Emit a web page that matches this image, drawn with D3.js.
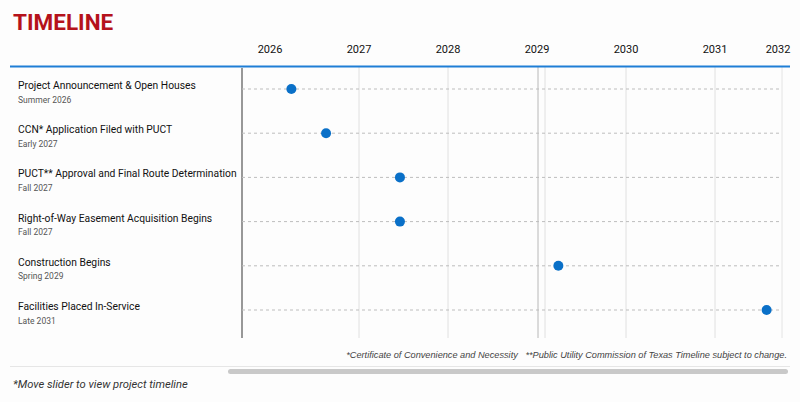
<!DOCTYPE html>
<html>
<head>
<meta charset="utf-8">
<script src="https://cdn.jsdelivr.net/npm/d3@7"></script>
<style>
  body { margin: 0; background: #fdfdfd; font-family: Roboto, "Noto Sans", sans-serif; }
</style>
</head>
<body>
<div id="app"></div>
<script>
const milestones = [
    "Project Announcement & Open Houses",
    "CCN* Application Filed with PUCT",
    "PUCT** Approval and Final Route Determination",
    "Right-of-Way Easement Acquisition Begins",
    "Construction Begins",
    "Facilities Placed In-Service"
];
const periods = ["Summer 2026", "Early 2027", "Fall 2027", "Fall 2027", "Spring 2029", "Late 2031"];
const dates = [2026.24, 2026.63, 2027.46, 2027.46, 2029.24, 2031.58];
const years = [2026, 2027, 2028, 2029, 2030, 2031, 2032];
const footnote = "*Certificate of Convenience and Necessity   **Public Utility Commission of Texas Timeline subject to change.";
const sliderNote = "*Move slider to view project timeline";

const width = 800, height = 402;
const svg = d3.select("#app").append("svg")
    .attr("width", width)
    .attr("height", height);

const x = d3.scaleLinear().domain([2026, 2031]).range([270, 715]);
const y = d3.scalePoint().domain(milestones).range([89, 310]);
const plotLeft = 242, plotRight = 782, plotTop = 67, plotBottom = 338;

// title
svg.append("text")
    .attr("x", 13).attr("y", 29.5)
    .attr("fill", "#b5121b")
    .attr("font-size", "22.5px")
    .attr("font-weight", "bold")
    .attr("font-family", "Roboto, sans-serif")
    .text("TIMELINE");

// year gridlines (first one is covered by the axis line)
svg.selectAll(".grid")
    .data(years.slice(1, -1))
    .enter().append("line")
    .attr("x1", d => x(d) + (d === 2029 ? 8 : 0))
    .attr("x2", d => x(d) + (d === 2029 ? 8 : 0))
    .attr("y1", plotTop).attr("y2", plotBottom)
    .attr("stroke", "#e0e0e0");

// right edge + darker divider at 2029
svg.append("line")
    .attr("x1", plotRight).attr("x2", plotRight)
    .attr("y1", plotTop).attr("y2", plotBottom)
    .attr("stroke", "#e4e4e4");
svg.append("line")
    .attr("x1", x(2029) + 1).attr("x2", x(2029) + 1)
    .attr("y1", plotTop).attr("y2", plotBottom)
    .attr("stroke", "#b8b8b8");

// year labels
svg.selectAll(".year")
    .data(years)
    .enter().append("text")
    .attr("x", d => Math.min(x(d), 778))
    .attr("y", 53)
    .attr("text-anchor", "middle")
    .attr("font-size", "11px")
    .attr("fill", "#111")
    .text(d => d);

// blue header rule
svg.append("line")
    .attr("x1", 10).attr("x2", 790)
    .attr("y1", 66.5).attr("y2", 66.5)
    .attr("stroke", "#1f7ed6")
    .attr("stroke-width", 2);

// left axis line
svg.append("line")
    .attr("x1", plotLeft).attr("x2", plotLeft)
    .attr("y1", plotTop + 1).attr("y2", plotBottom)
    .attr("stroke", "#555")
    .attr("stroke-width", 1.2);

// rows
const rows = svg.selectAll(".row")
    .data(milestones)
    .enter().append("g");

rows.append("line")
    .attr("x1", plotLeft).attr("x2", plotRight)
    .attr("y1", d => y(d)).attr("y2", d => y(d))
    .attr("stroke", "#bdbdbd")
    .attr("stroke-dasharray", "3,3");

rows.append("text")
    .attr("x", 18)
    .attr("y", d => y(d))
    .attr("font-size", "10.3px")
    .attr("fill", "#111")
    .text(d => d);

rows.append("text")
    .attr("x", 18)
    .attr("y", d => y(d) + 13.5)
    .attr("font-size", "8.5px")
    .attr("fill", "#555")
    .text((d, i) => periods[i]);

rows.append("circle")
    .attr("cx", (d, i) => x(dates[i]))
    .attr("cy", d => y(d))
    .attr("r", 5)
    .attr("fill", "#0a70c8");

// footnote
svg.append("text")
    .attr("x", 787).attr("y", 358)
    .attr("text-anchor", "end")
    .attr("font-size", "9.2px")
    .attr("font-style", "italic")
    .attr("font-family", "'Liberation Sans', Arial, sans-serif")
    .attr("fill", "#444")
    .style("white-space", "pre")
    .text(footnote);

// scroll area
svg.append("line")
    .attr("x1", 10).attr("x2", 790)
    .attr("y1", 366.5).attr("y2", 366.5)
    .attr("stroke", "#e6e6e6");
svg.append("rect")
    .attr("x", 228).attr("y", 369)
    .attr("width", 560).attr("height", 5)
    .attr("rx", 2.5)
    .attr("fill", "#c9c9c9");

svg.append("text")
    .attr("x", 13).attr("y", 388)
    .attr("font-size", "11.2px")
    .attr("font-style", "italic")
    .attr("fill", "#333")
    .text(sliderNote);
</script>
</body>
</html>
